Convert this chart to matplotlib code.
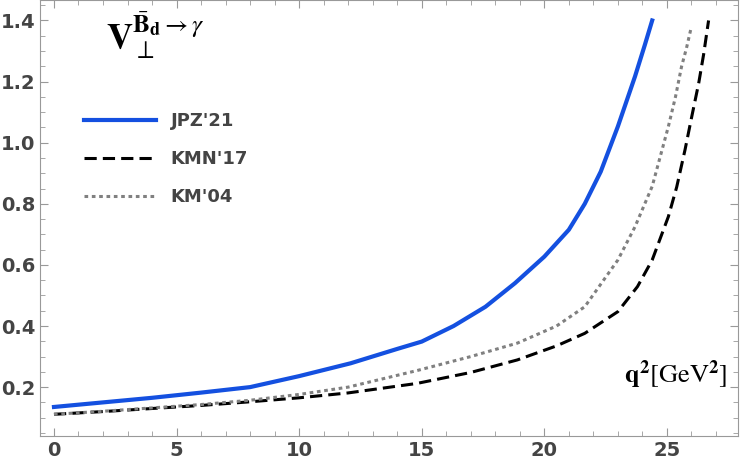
import matplotlib
matplotlib.use("Agg")
import matplotlib.pyplot as plt
from matplotlib.ticker import MultipleLocator

plt.rcParams["mathtext.fontset"] = "stix"

jpz_q2 = [0, 2, 4, 6, 8, 10, 12.1, 14, 15, 16.3, 17.6, 18.8, 20.0, 21.0, 21.65, 22.3, 23.0, 23.7, 24.1, 24.4]
jpz_v = [0.135, 0.150, 0.165, 0.182, 0.200, 0.236, 0.278, 0.325, 0.349, 0.40, 0.463, 0.54, 0.627, 0.715, 0.80, 0.905, 1.053, 1.217, 1.32, 1.40]
kmn_q2 = [0, 2, 4, 6, 8, 10, 12, 14.8, 17, 18.9, 20.5, 21.65, 23.0, 23.8, 24.4, 25.06, 25.4, 25.74, 26.0, 26.3, 26.5, 26.7]
kmn_v = [0.111, 0.120, 0.130, 0.140, 0.152, 0.165, 0.181, 0.212, 0.248, 0.289, 0.335, 0.376, 0.447, 0.529, 0.616, 0.758, 0.855, 0.977, 1.08, 1.196, 1.29, 1.40]
km_q2 = [0, 2, 4, 6, 8, 10, 12, 14.8, 17, 18.9, 20.5, 21.65, 23.0, 23.7, 24.4, 25.06, 25.35, 25.6, 25.8, 26.0]
km_v = [0.111, 0.121, 0.132, 0.143, 0.157, 0.176, 0.200, 0.254, 0.30, 0.344, 0.40, 0.463, 0.616, 0.725, 0.857, 1.053, 1.15, 1.25, 1.31, 1.38]

fig = plt.figure(figsize=(7.47, 4.72), dpi=100)
ax = fig.add_axes([40/747, 1-436/472, 698/747, 436/472])
ax.plot(jpz_q2, jpz_v, color="#1450e0", lw=3, label="JPZ'21")
ax.plot(kmn_q2, kmn_v, color="black", lw=2.2, ls=(0, (4, 2)), label="KMN'17")
ax.plot(km_q2, km_v, color="#808080", lw=2.2, ls=(0, (1.2, 1.2)), label="KM'04")
ax.set_xlim(-0.57, 27.9)
ax.set_ylim(0.04, 1.467)
ax.xaxis.set_major_locator(MultipleLocator(5))
ax.xaxis.set_minor_locator(MultipleLocator(1))
ax.yaxis.set_major_locator(MultipleLocator(0.2))
ax.yaxis.set_minor_locator(MultipleLocator(0.05))
for s in ax.spines.values():
    s.set_color("#999999")
ax.tick_params(which="both", direction="in", colors="#999999", labelcolor="#444444",
               top=True, right=True)
ax.tick_params(which="major", length=6, labelsize=14)
ax.tick_params(which="minor", length=3.5)
ax.set_yticks([0.2, 0.4, 0.6, 0.8, 1.0, 1.2, 1.4])
ax.set_yticklabels(["0.2", "0.4", "0.6", "0.8", "1.0", "1.2", "1.4"], fontweight="bold")
ax.set_xticks([0, 5, 10, 15, 20, 25])
ax.set_xticklabels(["0", "5", "10", "15", "20", "25"], fontweight="bold")
ax.legend(loc="upper left", bbox_to_anchor=(0.04, 0.78), frameon=False,
          prop={"size": 13, "weight": "bold"}, labelcolor="#444444",
          handlelength=4, labelspacing=1.1)
ax.text(0.095, 0.92, r"$\mathbf{V}_{\perp}^{\bar{\mathbf{B}}_\mathbf{d}\to\gamma}$",
        transform=ax.transAxes, fontsize=26, va="center")
ax.text(0.985, 0.14, r"$\mathbf{q^2}[\mathrm{GeV}^\mathbf{2}]$", transform=ax.transAxes,
        fontsize=19, ha="right", va="center")
fig.savefig("out.png", dpi=100)
